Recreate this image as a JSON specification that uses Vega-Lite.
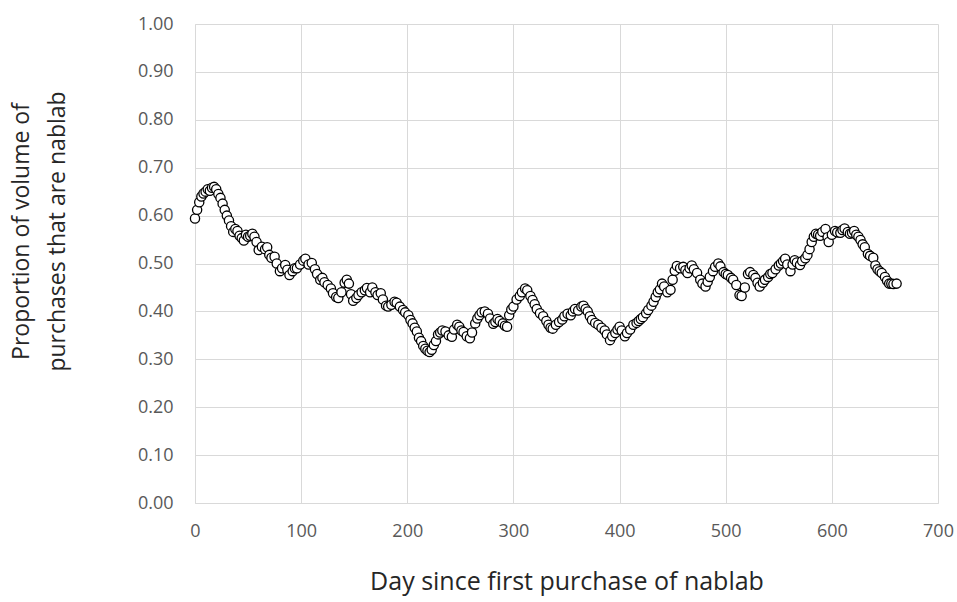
{
  "$schema": "https://vega.github.io/schema/vega-lite/v6.json",
  "width": 743,
  "height": 479,
  "autosize": "none",
  "padding": {"left": 195, "top": 24, "right": 19, "bottom": 99},
  "background": "white",
  "config": {"view": {"stroke": null}},
  "data": {"values": [
    {"d":0,"p":0.594},{"d":2,"p":0.612},{"d":4,"p":0.628},{"d":6,"p":0.640},{"d":8,"p":0.646},{"d":10,"p":0.650},{"d":12,"p":0.655},{"d":14,"p":0.652},{"d":16,"p":0.658},{"d":18,"p":0.660},
    {"d":20,"p":0.655},{"d":22,"p":0.645},{"d":24,"p":0.637},{"d":26,"p":0.625},{"d":28,"p":0.612},{"d":30,"p":0.600},{"d":32,"p":0.590},{"d":34,"p":0.578},{"d":36,"p":0.566},{"d":38,"p":0.572},
    {"d":40,"p":0.568},{"d":42,"p":0.558},{"d":44,"p":0.553},{"d":46,"p":0.548},{"d":48,"p":0.560},{"d":50,"p":0.556},{"d":52,"p":0.558},{"d":54,"p":0.562},{"d":56,"p":0.556},{"d":58,"p":0.545},
    {"d":60,"p":0.528},{"d":63,"p":0.535},{"d":66,"p":0.530},{"d":68,"p":0.534},{"d":70,"p":0.518},{"d":72,"p":0.512},{"d":75,"p":0.514},{"d":77,"p":0.500},{"d":80,"p":0.484},{"d":82,"p":0.490},
    {"d":85,"p":0.497},{"d":87,"p":0.487},{"d":89,"p":0.476},{"d":92,"p":0.484},{"d":94,"p":0.490},{"d":96,"p":0.490},{"d":99,"p":0.498},{"d":102,"p":0.506},{"d":104,"p":0.510},{"d":107,"p":0.498},
    {"d":110,"p":0.501},{"d":113,"p":0.488},{"d":115,"p":0.478},{"d":118,"p":0.466},{"d":120,"p":0.470},{"d":122,"p":0.461},{"d":125,"p":0.455},{"d":128,"p":0.448},{"d":130,"p":0.438},{"d":133,"p":0.430},
    {"d":135,"p":0.428},{"d":138,"p":0.440},{"d":141,"p":0.460},{"d":143,"p":0.466},{"d":145,"p":0.458},{"d":147,"p":0.436},{"d":149,"p":0.422},{"d":152,"p":0.428},{"d":154,"p":0.434},{"d":157,"p":0.440},
    {"d":160,"p":0.444},{"d":162,"p":0.449},{"d":165,"p":0.440},{"d":167,"p":0.450},{"d":170,"p":0.440},{"d":172,"p":0.434},{"d":175,"p":0.438},{"d":177,"p":0.425},{"d":180,"p":0.412},{"d":182,"p":0.410},
    {"d":185,"p":0.414},{"d":188,"p":0.420},{"d":190,"p":0.418},{"d":193,"p":0.410},{"d":196,"p":0.403},{"d":198,"p":0.398},{"d":201,"p":0.392},{"d":203,"p":0.382},{"d":205,"p":0.375},{"d":207,"p":0.366},
    {"d":209,"p":0.358},{"d":211,"p":0.345},{"d":213,"p":0.338},{"d":215,"p":0.328},{"d":217,"p":0.322},{"d":219,"p":0.318},{"d":221,"p":0.315},{"d":223,"p":0.320},{"d":225,"p":0.330},{"d":227,"p":0.338},
    {"d":229,"p":0.352},{"d":231,"p":0.356},{"d":233,"p":0.360},{"d":236,"p":0.358},{"d":239,"p":0.350},{"d":242,"p":0.347},{"d":244,"p":0.362},{"d":247,"p":0.372},{"d":249,"p":0.368},{"d":251,"p":0.360},
    {"d":253,"p":0.357},{"d":256,"p":0.348},{"d":259,"p":0.344},{"d":261,"p":0.356},{"d":264,"p":0.375},{"d":266,"p":0.385},{"d":268,"p":0.392},{"d":270,"p":0.398},{"d":273,"p":0.400},{"d":276,"p":0.395},
    {"d":278,"p":0.385},{"d":281,"p":0.374},{"d":283,"p":0.378},{"d":285,"p":0.384},{"d":287,"p":0.380},{"d":290,"p":0.375},{"d":292,"p":0.370},{"d":294,"p":0.368},{"d":296,"p":0.392},{"d":298,"p":0.404},
    {"d":300,"p":0.410},{"d":303,"p":0.425},{"d":306,"p":0.432},{"d":308,"p":0.440},{"d":311,"p":0.448},{"d":313,"p":0.444},{"d":316,"p":0.432},{"d":318,"p":0.424},{"d":320,"p":0.415},{"d":322,"p":0.405},
    {"d":325,"p":0.396},{"d":328,"p":0.390},{"d":331,"p":0.380},{"d":333,"p":0.372},{"d":335,"p":0.366},{"d":337,"p":0.364},{"d":340,"p":0.372},{"d":343,"p":0.378},{"d":346,"p":0.383},{"d":348,"p":0.390},
    {"d":351,"p":0.395},{"d":354,"p":0.392},{"d":356,"p":0.400},{"d":358,"p":0.405},{"d":361,"p":0.402},{"d":364,"p":0.410},{"d":366,"p":0.412},{"d":368,"p":0.405},{"d":370,"p":0.400},{"d":372,"p":0.390},
    {"d":374,"p":0.382},{"d":377,"p":0.376},{"d":380,"p":0.372},{"d":383,"p":0.366},{"d":386,"p":0.360},{"d":388,"p":0.352},{"d":391,"p":0.340},{"d":393,"p":0.348},{"d":396,"p":0.355},{"d":398,"p":0.362},
    {"d":400,"p":0.368},{"d":402,"p":0.360},{"d":405,"p":0.348},{"d":407,"p":0.355},{"d":410,"p":0.362},{"d":413,"p":0.372},{"d":416,"p":0.376},{"d":418,"p":0.380},{"d":420,"p":0.384},{"d":422,"p":0.388},
    {"d":425,"p":0.396},{"d":427,"p":0.403},{"d":430,"p":0.412},{"d":432,"p":0.420},{"d":434,"p":0.430},{"d":436,"p":0.440},{"d":438,"p":0.446},{"d":440,"p":0.458},{"d":442,"p":0.452},{"d":445,"p":0.440},
    {"d":448,"p":0.445},{"d":450,"p":0.466},{"d":452,"p":0.485},{"d":454,"p":0.495},{"d":457,"p":0.490},{"d":460,"p":0.493},{"d":462,"p":0.486},{"d":464,"p":0.480},{"d":466,"p":0.490},{"d":468,"p":0.496},
    {"d":470,"p":0.488},{"d":473,"p":0.480},{"d":476,"p":0.466},{"d":478,"p":0.458},{"d":481,"p":0.452},{"d":483,"p":0.462},{"d":485,"p":0.472},{"d":488,"p":0.484},{"d":490,"p":0.493},{"d":493,"p":0.500},
    {"d":495,"p":0.494},{"d":498,"p":0.482},{"d":500,"p":0.478},{"d":502,"p":0.476},{"d":505,"p":0.470},{"d":507,"p":0.466},{"d":510,"p":0.455},{"d":513,"p":0.434},{"d":515,"p":0.432},{"d":518,"p":0.450},
    {"d":521,"p":0.478},{"d":523,"p":0.482},{"d":526,"p":0.476},{"d":528,"p":0.470},{"d":530,"p":0.460},{"d":532,"p":0.452},{"d":535,"p":0.460},{"d":537,"p":0.466},{"d":540,"p":0.472},{"d":542,"p":0.478},
    {"d":544,"p":0.480},{"d":547,"p":0.488},{"d":550,"p":0.496},{"d":552,"p":0.500},{"d":554,"p":0.505},{"d":556,"p":0.510},{"d":558,"p":0.498},{"d":561,"p":0.484},{"d":563,"p":0.498},{"d":565,"p":0.507},
    {"d":567,"p":0.502},{"d":570,"p":0.497},{"d":572,"p":0.505},{"d":575,"p":0.511},{"d":577,"p":0.518},{"d":579,"p":0.530},{"d":581,"p":0.545},{"d":583,"p":0.556},{"d":585,"p":0.562},{"d":587,"p":0.560},
    {"d":589,"p":0.558},{"d":591,"p":0.566},{"d":594,"p":0.572},{"d":596,"p":0.555},{"d":597,"p":0.545},{"d":600,"p":0.560},{"d":603,"p":0.568},{"d":605,"p":0.565},{"d":608,"p":0.564},{"d":610,"p":0.570},
    {"d":612,"p":0.573},{"d":615,"p":0.566},{"d":617,"p":0.562},{"d":619,"p":0.564},{"d":621,"p":0.568},{"d":623,"p":0.560},{"d":625,"p":0.556},{"d":627,"p":0.549},{"d":629,"p":0.540},{"d":631,"p":0.534},
    {"d":634,"p":0.520},{"d":636,"p":0.516},{"d":639,"p":0.512},{"d":641,"p":0.496},{"d":643,"p":0.488},{"d":645,"p":0.484},{"d":647,"p":0.480},{"d":650,"p":0.472},{"d":652,"p":0.464},{"d":654,"p":0.458},
    {"d":656,"p":0.458},{"d":658,"p":0.457},{"d":661,"p":0.458}
  ]},
  "mark": {"type": "point", "shape": "circle", "filled": false, "fill": "white", "fillOpacity": 1, "stroke": "black", "strokeWidth": 1.3, "opacity": 1, "size": 85},
  "encoding": {
    "x": {
      "field": "d", "type": "quantitative",
      "scale": {"domain": [0, 700], "nice": false, "zero": false},
      "axis": {
        "values": [0, 100, 200, 300, 400, 500, 600, 700],
        "title": "Day since first purchase of nablab",
        "titleFont": "Open Sans", "titleFontSize": 25, "titleFontWeight": "normal", "titleColor": "#262626",
        "titlePadding": 29,
        "labelFont": "Open Sans", "labelFontSize": 18, "labelColor": "#595959", "labelPadding": 19,
        "labelFlush": false,
        "grid": true, "gridColor": "#d9d9d9", "gridWidth": 1,
        "domainColor": "#d9d9d9", "domainWidth": 1, "ticks": false
      }
    },
    "y": {
      "field": "p", "type": "quantitative",
      "scale": {"domain": [0, 1], "nice": false},
      "axis": {
        "values": [0, 0.1, 0.2, 0.3, 0.4, 0.5, 0.6, 0.7, 0.8, 0.9, 1.0],
        "format": ".2f",
        "title": ["Proportion of volume of", "purchases that are nablab"],
        "titleFont": "Open Sans", "titleFontSize": 23, "titleFontWeight": "normal", "titleColor": "#262626",
        "titleAngle": -90, "titleAlign": "center", "titleBaseline": "middle",
        "titleX": -174, "titleY": 207, "titleLineHeight": 36,
        "labelFont": "Open Sans", "labelFontSize": 18, "labelColor": "#595959", "labelPadding": 22,
        "labelFlush": false,
        "grid": true, "gridColor": "#d9d9d9", "gridWidth": 1,
        "domainColor": "#d9d9d9", "domainWidth": 1, "ticks": false
      }
    }
  }
}
